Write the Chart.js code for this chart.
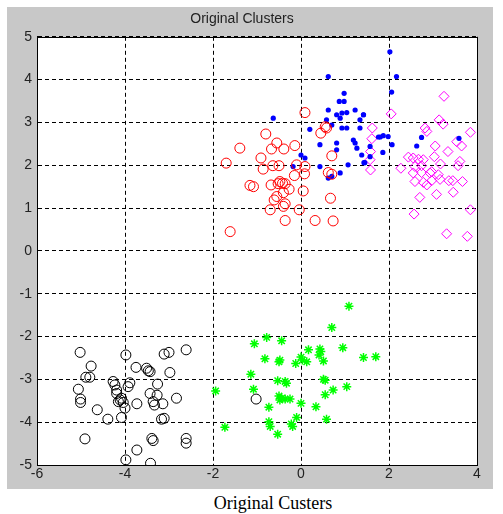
<!DOCTYPE html>
<html>
<head>
<meta charset="utf-8">
<script src="https://cdn.jsdelivr.net/npm/chart.js@4/dist/chart.umd.min.js"></script>
<style>
  body { margin: 0; background: #fff; }
  #fig { position: absolute; left: 7px; top: 7px; width: 486px; height: 482px; background: #c8c8c8; }
  #caption { position: absolute; left: 73px; top: 493px; width: 400px; text-align: center;
             font-family: "Liberation Serif", "Times New Roman", serif; font-size: 18px; color: #000; }
</style>
</head>
<body>
<div id="fig"><canvas id="myChart" width="486" height="482"></canvas></div>
<div id="caption">Original Custers</div>
<script>
// cluster 1 - black circles
const blackX = [-5.02, -4.77, -4.89, -4.80, -5.06, -5.01, -5.01, -4.63, -4.39, -4.91, -3.98, -3.75, -4.27, -4.23, -4.19, -3.89, -3.93, -4.19, -4.11, -4.15, -4.04, -4.08, -4.00, -3.73, -4.08, -3.51, -3.43, -3.47, -3.11, -3.00, -2.61, -2.98, -3.26, -3.43, -3.27, -3.36, -3.33, -3.14, -2.83, -3.17, -3.11, -3.39, -3.36, -2.61, -2.61, -3.73, -3.98, -3.42, -1.02];
const blackY = [-2.37, -2.69, -2.95, -2.95, -3.23, -3.46, -3.54, -3.71, -3.93, -4.39, -2.43, -2.72, -3.05, -3.13, -3.25, -3.08, -3.17, -3.33, -3.48, -3.52, -3.54, -3.44, -3.67, -3.57, -3.89, -2.74, -2.82, -2.80, -2.41, -2.37, -2.31, -2.84, -3.11, -3.33, -3.37, -3.52, -3.60, -3.57, -3.44, -3.93, -3.91, -4.38, -4.43, -4.38, -4.49, -4.65, -4.88, -4.96, -3.46];

// cluster 2 - red circles
const redX = [0.09, -0.80, -0.55, -1.39, -0.67, -0.39, -0.14, 0.55, 0.58, 0.45, -0.91, -0.86, -1.70, -0.64, -0.50, -0.10, 0.09, 0.08, -0.15, 0.70, 0.62, 0.70, -1.16, -1.08, -0.68, -0.48, -0.42, -0.36, -0.52, -0.27, -0.40, 0.05, -0.55, -0.61, -0.36, -0.40, -0.70, -0.04, 0.67, -0.36, 0.32, 0.73, -1.61];
const redY = [3.23, 2.73, 2.52, 2.40, 2.38, 2.38, 2.46, 2.90, 2.87, 2.75, 2.17, 1.91, 2.05, 1.99, 1.99, 2.01, 1.97, 1.80, 1.76, 2.22, 1.83, 1.79, 1.53, 1.50, 1.54, 1.62, 1.58, 1.57, 1.57, 1.44, 1.36, 1.40, 1.27, 1.19, 1.10, 1.04, 0.96, 0.96, 1.23, 0.71, 0.71, 0.70, 0.45];

// cluster 3 - blue dots
const blueX = [0.62, 0.98, 0.87, 0.98, -0.63, 0.62, 0.81, 0.93, 1.04, 1.23, 1.42, 0.89, 0.58, 1.34, 0.70, 0.20, 0.93, 1.04, 1.34, 0.43, 0.81, 1.19, 1.23, 1.27, 1.57, 1.76, 0.81, 0.00, 0.09, 1.38, 1.57, 1.45, -0.18, 0.43, 1.07, 0.89, 0.62, 0.70, 2.02, 2.17, 2.06, 1.42, 1.80, 1.87, 1.98, 2.07, 1.86, 2.74, 2.63, 3.59, 1.43];
const blueY = [4.07, 3.68, 3.49, 3.49, 3.10, 3.29, 3.18, 3.22, 3.23, 3.29, 3.18, 3.10, 3.06, 3.06, 2.94, 2.84, 2.87, 2.87, 2.87, 2.48, 2.52, 2.59, 2.52, 2.40, 2.44, 2.66, 2.36, 2.24, 2.17, 2.24, 2.20, 2.06, 1.97, 1.97, 2.01, 1.82, 1.70, 1.74, 4.65, 4.07, 3.71, 3.18, 2.66, 2.69, 2.67, 2.48, 2.30, 2.65, 2.45, 2.63, 2.06];

// cluster 4 - magenta diamonds
const magentaX = [1.62, 1.61, 1.58, 1.57, 1.58, 3.25, 2.05, 3.14, 3.23, 2.82, 2.86, 3.85, 3.54, 3.65, 3.05, 3.34, 2.44, 2.55, 2.67, 2.78, 3.03, 3.17, 3.61, 3.57, 2.27, 2.59, 2.74, 2.97, 2.55, 2.74, 2.93, 3.12, 2.59, 2.78, 2.97, 3.16, 3.36, 3.45, 3.67, 2.86, 2.70, 3.08, 3.46, 2.57, 3.85, 3.31, 3.78];
const magentaY = [2.87, 2.62, 2.32, 2.13, 1.89, 3.61, 3.20, 3.06, 2.96, 2.87, 2.79, 2.77, 2.55, 2.45, 2.45, 2.32, 2.19, 2.17, 2.14, 2.13, 2.20, 2.03, 2.09, 1.99, 1.93, 1.97, 1.99, 1.85, 1.82, 1.83, 1.82, 1.78, 1.62, 1.60, 1.64, 1.67, 1.64, 1.64, 1.62, 1.54, 1.25, 1.32, 1.37, 0.86, 0.96, 0.40, 0.34];

// cluster 5 - green stars
const greenX = [1.09, 0.70, -0.78, -1.06, -0.44, 0.95, 0.17, 0.43, 0.45, 0.41, -0.82, -0.48, -0.50, 0.00, 0.03, 0.13, -0.12, 0.51, 1.42, 1.70, -1.14, 0.51, 0.55, -0.53, -0.36, -0.33, -1.94, -1.08, 0.73, 0.55, 1.04, -0.50, -0.44, -0.48, -0.36, -0.25, 0.00, 0.34, -0.73, -0.10, 0.58, -0.73, -0.70, -0.22, -0.19, -1.73, -0.53];
const greenY = [-1.29, -1.79, -2.02, -2.17, -2.10, -2.26, -2.31, -2.29, -2.35, -2.43, -2.52, -2.55, -2.59, -2.48, -2.55, -2.59, -2.63, -2.57, -2.49, -2.47, -2.88, -3.00, -3.02, -3.03, -3.05, -3.09, -3.27, -3.23, -3.25, -3.36, -3.17, -3.39, -3.44, -3.48, -3.46, -3.46, -3.56, -3.64, -3.65, -3.89, -3.93, -3.99, -4.10, -4.04, -4.10, -4.12, -4.28];

const xTicks = [-6, -4, -2, 0, 2, 4];
const yTicks = [-5, -4, -3, -2, -1, 0, 1, 2, 3, 4, 5];

function toPoints(xs, ys) {
    return xs.map((x, i) => ({ x: x, y: ys[i] }));
}

const tickFont = { family: 'Liberation Sans, Arial, sans-serif', size: 14 };

// white plot area + solid axes box
const boxPlugin = {
    id: 'box',
    beforeDraw(chart) {
        const a = chart.chartArea;
        chart.ctx.save();
        chart.ctx.fillStyle = '#fff';
        chart.ctx.fillRect(a.left, a.top, a.right - a.left, a.bottom - a.top);
        chart.ctx.restore();
    },
    beforeDatasetsDraw(chart) {
        const a = chart.chartArea;
        const ctx = chart.ctx;
        ctx.save();
        ctx.strokeStyle = '#000';
        ctx.lineWidth = 1;
        ctx.strokeRect(Math.round(a.left) + 0.5, Math.round(a.top) + 0.5,
            Math.round(a.right - a.left), Math.round(a.bottom - a.top));
        ctx.restore();
    }
};

const ctx = document.getElementById('myChart').getContext('2d');
const myChart = new Chart(ctx, {
    type: 'scatter',
    data: {
        datasets: [
            { data: toPoints(blackX, blackY), pointStyle: 'circle', pointRadius: 5, borderColor: '#000', backgroundColor: 'rgba(0,0,0,0)', borderWidth: 1 },
            { data: toPoints(redX, redY), pointStyle: 'circle', pointRadius: 5, borderColor: '#ff0000', backgroundColor: 'rgba(0,0,0,0)', borderWidth: 1 },
            { data: toPoints(blueX, blueY), pointStyle: 'circle', pointRadius: 2.6, borderColor: '#0000ff', backgroundColor: '#0000ff', borderWidth: 0 },
            { data: toPoints(magentaX, magentaY), pointStyle: 'rectRot', pointRadius: 5, borderColor: '#ff00ff', backgroundColor: 'rgba(0,0,0,0)', borderWidth: 1 },
            { data: toPoints(greenX, greenY), pointStyle: 'star', pointRadius: 4.5, borderColor: '#00ff00', backgroundColor: '#00ff00', borderWidth: 1.5 }
        ]
    },
    options: {
        responsive: false,
        animation: false,
        layout: { padding: { left: 0, right: 16, top: 0, bottom: 0 } },
        plugins: {
            legend: { display: false },
            tooltip: { enabled: false },
            title: {
                display: true,
                text: 'Original Clusters',
                color: '#222',
                font: { family: 'Liberation Sans, Arial, sans-serif', size: 14, weight: 'normal' },
                padding: { top: 4, bottom: 9 }
            }
        },
        scales: {
            x: {
                type: 'linear',
                min: -6,
                max: 4,
                afterBuildTicks: (scale) => { scale.ticks = xTicks.map(v => ({ value: v })); },
                ticks: { color: '#222', font: tickFont, padding: 1, maxRotation: 0 },
                grid: { color: '#000', lineWidth: 1, drawTicks: false },
                border: { display: true, color: '#000', dash: [4, 3] },
                afterFit: (scale) => { scale.height = 24; }
            },
            y: {
                type: 'linear',
                min: -5,
                max: 5,
                afterBuildTicks: (scale) => { scale.ticks = yTicks.map(v => ({ value: v })); },
                ticks: { color: '#222', font: tickFont, padding: 5 },
                grid: { color: '#000', lineWidth: 1, drawTicks: false },
                border: { display: true, color: '#000', dash: [4, 3] },
                afterFit: (scale) => { scale.width = 30; }
            }
        }
    },
    plugins: [boxPlugin]
});
</script>
</body>
</html>
